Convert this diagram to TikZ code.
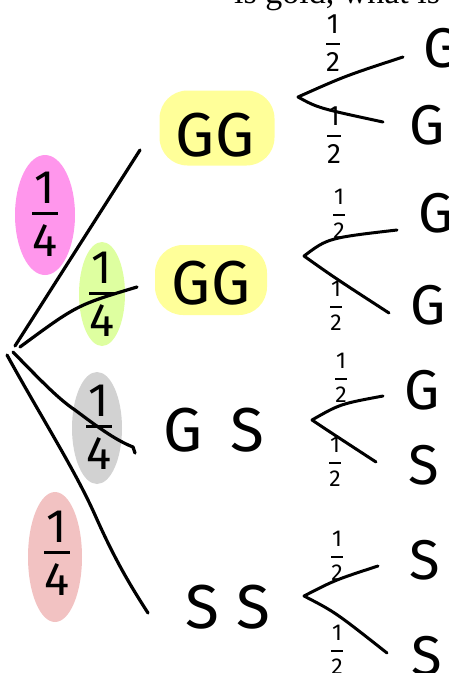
\documentclass[tikz,border=0pt]{standalone}
\usepackage{amsmath}
\usepackage{fontspec}
\setmainfont{Fira Sans}
\newfontfamily\serifq{Liberation Serif}
\usetikzlibrary{shapes.geometric}
\definecolor{bpink}{RGB}{255,150,236}
\definecolor{bgreen}{RGB}{222,255,160}
\definecolor{bgray}{RGB}{210,210,210}
\definecolor{bred}{RGB}{242,194,194}
\definecolor{hly}{RGB}{255,255,153}
\newcommand{\hq}[2]{$\genfrac{}{}{3pt}{0}{\mbox{#1}}{\mbox{#2}}$}
\newcommand{\hh}[2]{$\genfrac{}{}{2.2pt}{0}{\mbox{#1}}{\mbox{#2}}$}
\begin{document}
\begin{tikzpicture}[x=1pt,y=-1pt,
  br/.style={line width=3.2pt,line cap=round,line join=round},
  sb/.style={line width=3pt,line cap=round,line join=round},
  big/.style={font=\fontsize{62}{62}\selectfont,inner sep=0pt},
  leaf/.style={font=\fontsize{56}{56}\selectfont,inner sep=0pt},
  half/.style={font=\fontsize{23}{23}\selectfont,inner sep=0pt},
  bighalf/.style={font=\fontsize{28}{28}\selectfont,inner sep=0pt},
  quarter/.style={font=\fontsize{47}{47}\selectfont,inner sep=0pt},
  blob/.style={ellipse,draw=none,inner sep=0pt},
  hl/.style={fill=hly,rounded corners=28pt,draw=none,inner sep=0pt}]
\useasboundingbox (0,0) rectangle (449,673);
\clip (0,0) rectangle (449,673);

% question text (cut off at top)
\node[anchor=base west,inner sep=0pt,font=\serifq\fontsize{34}{34}\selectfont] (qt) at (234,3) {is gold, what is};

% coloured blobs
\node[blob,fill=bpink,minimum width=60pt,minimum height=120pt] (b1) at (45,215) {};
\node[blob,fill=bgreen,minimum width=46pt,minimum height=104pt] (b2) at (102,294) {};
\node[blob,fill=bgray,minimum width=50pt,minimum height=112pt] (b3) at (97,428) {};
\node[blob,fill=bred,minimum width=54pt,minimum height=130pt] (b4) at (55,557) {};

% yellow highlights
\node[hl,minimum width=115pt,minimum height=75pt] (h1) at (217,128) {};
\node[hl,minimum width=112pt,minimum height=70pt] (h2) at (211,280) {};

% root coordinates and branch ends
\coordinate (r1) at (15,346);
\coordinate (r2) at (20,347);
\coordinate (r3) at (13,352);
\coordinate (r4) at (7,355);
\coordinate (e1) at (140,150);
\coordinate (e2) at (137,287);
\coordinate (e3) at (133,447);
\coordinate (e4) at (148,613);

% quarter labels
\node[quarter] (q1) at (45,214) {\hq{1}{4}};
\node[quarter] (q2) at (102,294) {\hq{1}{4}};
\node[quarter] (q3) at (99,427) {\hq{1}{4}};
\node[quarter] (q4) at (57,553) {\hq{1}{4}};

% first level branches
\draw[br] (r1) -- (e1);
\draw[br] (r2) .. controls (77,305) .. (e2);
\draw[br] (r3) .. controls (45,385) and (60,400) .. (75,410) .. controls (95,425) and (115,440) .. (e3) -- ++(2,6);
\draw[br] (r4) .. controls (40,415) and (75,470) .. (95,515) .. controls (115,560) and (130,585) .. (e4);

% outcomes of first draw
\node[big] (o1) at (215,135) {GG};
\node[big] (o2) at (211,283) {GG};
\node[big] (o3) at (214,430) {G\hspace{0.45em}S};
\node[big] (o4) at (228,607) {S S};

% second level vertices and ends
\coordinate (v1) at (298,97);
\coordinate (u1) at (403,57);
\coordinate (d1) at (383,122);
\coordinate (v2) at (304,256);
\coordinate (u2) at (397,230);
\coordinate (d2) at (389,313);
\coordinate (v3) at (312,420);
\coordinate (u3) at (383,396);
\coordinate (d3) at (376,462);
\coordinate (v4) at (304,596);
\coordinate (u4) at (378,566);
\coordinate (d4) at (387,653);

\draw[sb] (u1) .. controls (345,76) .. (v1) .. controls (318,108) .. (d1);
\draw[sb] (u2) .. controls (328,238) .. (v2) .. controls (335,278) .. (d2);
\draw[sb] (u3) .. controls (340,404) .. (v3) .. controls (330,432) .. (d3);
\draw[sb] (u4) .. controls (335,580) .. (v4) .. controls (335,612) .. (d4);

% half labels
\node[bighalf] (p1a) at (333,43) {\hh{1}{2}};
\node[bighalf] (p1b) at (334,135) {\hh{1}{2}};
\node[half] (p2a) at (339,214) {\hh{1}{2}};
\node[half] (p2b) at (336,306) {\hh{1}{2}};
\node[half] (p3a) at (341,378) {\hh{1}{2}};
\node[half] (p3b) at (335,462) {\hh{1}{2}};
\node[half] (p4a) at (337,556) {\hh{1}{2}};
\node[half] (p4b) at (337,650) {\hh{1}{2}};

% leaves
\node[leaf] (l1a) at (441,48) {G};
\node[leaf] (l1b) at (427,125) {G};
\node[leaf] (l2a) at (436,213) {G};
\node[leaf] (l2b) at (428,305) {G};
\node[leaf] (l3a) at (422,390) {G};
\node[leaf] (l3b) at (424,465) {S};
\node[leaf] (l4a) at (425,560) {S};
\node[leaf] (l4b) at (427,656) {S};
\end{tikzpicture}
\end{document}
